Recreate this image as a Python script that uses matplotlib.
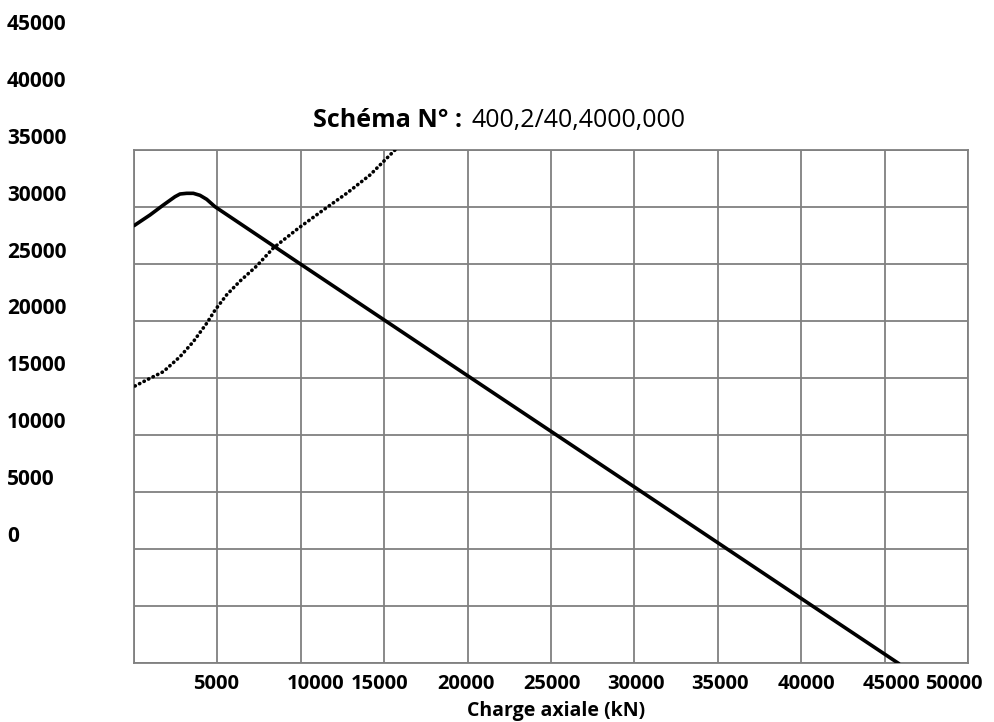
import matplotlib
matplotlib.use("Agg")
import matplotlib.pyplot as plt
import numpy as np

# curve data (x: charge axiale kN, y on the 0..45000 grid)
solid_x = [60, 959, 1759, 2458, 2758, 3158, 3557, 3957, 4357, 4856, 9832, 14868,
           20000, 30000, 40000, 45800]
solid_y = [38420, 39300, 40175, 40904, 41140, 41200, 41200, 41024, 40675, 40026,
           35140, 30220, 25200, 15440, 5660, 0]

dotted_x = [60, 959, 1757, 2758, 3555, 4359, 4856, 5558, 6355, 7356, 8351, 9850,
            11349, 12752, 14149, 15546, 15647]
dotted_y = [24298, 24974, 25553, 26868, 28184, 29800, 30950, 32300, 33500, 34825,
            36400, 38132, 39737, 41202, 42807, 44851, 45000]

y_labels = ["45000", "40000", "35000", "30000", "25000", "20000", "15000", "10000", "5000", "0"]
x_labels = ["5000", "10000", "15000", "20000", "25000", "30000", "35000", "40000", "45000", "50000"]
x_label_pos = [4900, 10900, 14700, 19900, 25050, 30100, 35150, 40300, 45400, 49150]

title_bold = "Schéma N° :"
title_rest = "400,2/40,4000,000"

W, H = 995, 722
fig = plt.figure(figsize=(W / 100, H / 100), dpi=100)
ax = fig.add_axes([134 / W, 1 - 663 / H, 834 / W, 513 / H])

ax.set_xlim(0, 50000)
ax.set_ylim(0, 45000)
ax.set_xticks(np.arange(0, 50001, 5000))
ax.set_yticks(np.arange(0, 45001, 5000))
ax.grid(True, color="#808080", linewidth=1.3)
ax.tick_params(length=0, labelbottom=False, labelleft=False)
for s in ax.spines.values():
    s.set_color("#808080")
    s.set_linewidth(1.3)

ax.plot(solid_x, solid_y, color="black", linewidth=2.6, solid_joinstyle="round",
        zorder=3)
ax.plot(dotted_x, dotted_y, color="black", linewidth=2.6,
        linestyle=(0, (0.1, 1.3)), dash_capstyle="round", zorder=3)

font = "Open Sans"

# left column of values
for i, lab in enumerate(y_labels):
    yb = 30 + i * 56.9
    fig.text(7 / W, 1 - yb / H, lab, fontsize=15, fontweight="bold",
             family=font, ha="left", va="baseline")

# bottom values
for lab, xv in zip(x_labels, x_label_pos):
    ax.text(xv, -26 / 513, lab, transform=ax.get_xaxis_transform(), fontsize=14.5,
            fontweight="bold", family=font, ha="center", va="baseline")

fig.text(556 / W, 1 - 716 / H, "Charge axiale (kN)", fontsize=14,
         fontweight="bold", family=font, ha="center", va="baseline")

fig.text(313 / W, 1 - 127 / H, title_bold, fontsize=18, fontweight="bold",
         family=font, ha="left", va="baseline")
fig.text(472 / W, 1 - 127 / H, title_rest, fontsize=18, family=font,
         ha="left", va="baseline")

fig.savefig("out.png", dpi=100)
